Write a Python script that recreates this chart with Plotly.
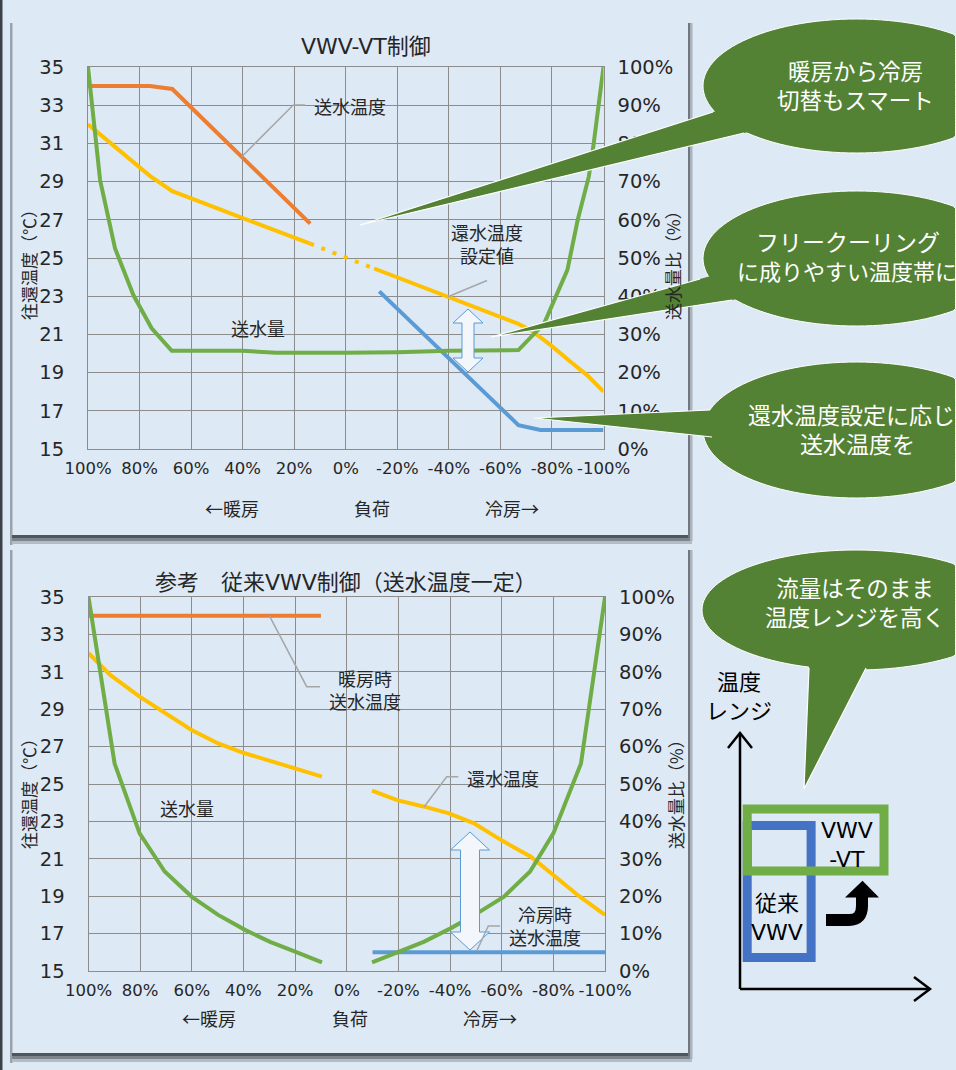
import math
import plotly.graph_objects as go

W, H = 956, 1070
FONT = "Noto Sans CJK JP"
LFONT = "DejaVu Sans, Noto Sans CJK JP"
TXT = "#262626"
BG = "#dde9f5"
ORANGE, YELLOW, GREEN, BLUE = "#ED7D31", "#FFC000", "#70AD47", "#5B9BD5"
DKGREEN = "#548235"
GRID = "#8c8c8c"
LEAD = "#a6a6a6"

# ---------------- data ----------------
load_ticks = [100, 80, 60, 40, 20, 0, -20, -40, -60, -80, -100]
load_tick_text = ["100%", "80%", "60%", "40%", "20%", "0%", "-20%", "-40%", "-60%", "-80%", "-100%"]
temp_ticks = [15, 17, 19, 21, 23, 25, 27, 29, 31, 33, 35]
flow_ticks = [0, 10, 20, 30, 40, 50, 60, 70, 80, 90, 100]

# top: VWV-VT
top_supply_heat_x = [100, 76, 67.3, 13.8]
top_supply_heat = [34.0, 34.0, 33.85, 26.8]
top_return_heat_x = [100, 76, 67.3, 13.8]
top_return_heat = [32.0, 29.3, 28.5, 25.75]
top_return_bridge_x = [13.8, -11]
top_return_bridge = [25.75, 24.45]
top_return_cool_x = [-11, -40, -66.5, -71.7, -79.4, -87.2, -93.6, -100]
top_return_cool = [24.45, 22.97, 21.58, 21.23, 20.45, 19.57, 18.87, 18.0]
top_supply_cool_x = [-13, -67, -75.5, -100]
top_supply_cool = [23.25, 16.25, 16.0, 16.0]
top_flow_x = [100, 95.3, 89.5, 82.4, 75.3, 67.5, 40, 27, 0, -20, -40, -67, -77, -86, -90, -94.3, -96.2, -100]
top_flow = [100, 70.4, 52.5, 40.3, 31.6, 25.7, 25.7, 25.2, 25.2, 25.3, 25.7, 25.9, 32.9, 46.9, 60, 71.3, 80, 100]

# bottom: conventional VWV
bot_supply_heat_x = [100, 10]
bot_supply_heat = [34.0, 34.0]
bot_return_heat_x = [100, 91.6, 80.2, 70, 60.1, 50, 40.1, 30, 20, 9.6]
bot_return_heat = [32.0, 30.83, 29.67, 28.74, 27.89, 27.18, 26.67, 26.25, 25.84, 25.39]
bot_return_cool_x = [-9.8, -19.5, -29.7, -39.6, -49.3, -59.8, -71.3, -84.3, -90, -100]
bot_return_cool = [24.64, 24.14, 23.8, 23.43, 22.9, 22.0, 21.11, 19.69, 19.0, 18.0]
bot_flow_heat_x = [100, 89.9, 80.2, 70.5, 60.1, 49.8, 39.4, 29.7, 20, 9.6]
bot_flow_heat = [100, 55.5, 36.8, 26.6, 19.9, 15.0, 11.0, 7.8, 5.2, 2.3]
bot_flow_cool_x = [-9.8, -20.1, -29.8, -40.2, -50.5, -60.9, -71, -80, -90.7, -100]
bot_flow_cool = [2.3, 5.2, 7.8, 11.4, 15.4, 19.9, 26.6, 36.8, 55.5, 100]
bot_supply_cool_x = [-10, -100]
bot_supply_cool = [16.0, 16.0]


def px(x):
    return x / W


def py(y):
    return 1 - y / H


fig = go.Figure()


def line(x, y, color, xa, ya, dash=None, width=4):
    fig.add_trace(go.Scatter(x=x, y=y, mode="lines", xaxis=xa, yaxis=ya,
                             line=dict(color=color, width=width, dash=dash),
                             hoverinfo="skip", showlegend=False))


# top traces
line(top_return_heat_x, top_return_heat, YELLOW, "x", "y")
line(top_return_bridge_x, top_return_bridge, YELLOW, "x", "y", dash="4px,8px")
line(top_return_cool_x, top_return_cool, YELLOW, "x", "y")
line(top_flow_x, top_flow, GREEN, "x", "y2")
line(top_supply_heat_x, top_supply_heat, ORANGE, "x", "y")
line(top_supply_cool_x, top_supply_cool, BLUE, "x", "y")

# bottom traces
line(bot_return_heat_x, bot_return_heat, YELLOW, "x2", "y3")
line(bot_return_cool_x, bot_return_cool, YELLOW, "x2", "y3")
line(bot_flow_heat_x, bot_flow_heat, GREEN, "x2", "y4")
line(bot_flow_cool_x, bot_flow_cool, GREEN, "x2", "y4")
line(bot_supply_heat_x, bot_supply_heat, ORANGE, "x2", "y3")
line(bot_supply_cool_x, bot_supply_cool, BLUE, "x2", "y3")

shapes = []
ann = []


def rect(x0, y0, x1, y1, color, layer="below"):
    shapes.append(dict(type="rect", xref="paper", yref="paper", x0=px(x0), x1=px(x1),
                       y0=py(y1), y1=py(y0), fillcolor=color, line=dict(width=0), layer=layer))


def pstr(pts, closed=False):
    d = "M" + "L".join(f"{px(x):.5f},{py(y):.5f}" for x, y in pts)
    return d + ("Z" if closed else "")


def polyline(pts, color, width):
    shapes.append(dict(type="path", xref="paper", yref="paper", path=pstr(pts),
                       line=dict(color=color, width=width), fillcolor="rgba(0,0,0,0)", layer="above"))


def polygon(pts, fill, lcolor=None, lwidth=0):
    shapes.append(dict(type="path", xref="paper", yref="paper", path=pstr(pts, True),
                       line=dict(color=lcolor or fill, width=lwidth), fillcolor=fill, layer="above"))


def ellipse(x0, y0, x1, y1):
    cx, cy, rx, ry = (x0 + x1) / 2, (y0 + y1) / 2, (x1 - x0) / 2, (y1 - y0) / 2
    pts = []
    for k in range(0, 360, 3):
        t = math.radians(k)
        pts.append((min(cx + rx * math.cos(t), W - 0.5), cy + ry * math.sin(t)))
    polygon(pts, DKGREEN, "white", 1)


def tail(tip, a, b, ext=1.25):
    ae = (tip[0] + (a[0] - tip[0]) * ext, tip[1] + (a[1] - tip[1]) * ext)
    be = (tip[0] + (b[0] - tip[0]) * ext, tip[1] + (b[1] - tip[1]) * ext)
    polygon([tip, ae, be], DKGREEN)
    polyline([a, tip, b], "white", 1.2)


def text(x, y, s, size=18, color=TXT, angle=0, xanchor="center", family=FONT):
    ann.append(dict(x=px(x), y=py(y), xref="paper", yref="paper", text=s, showarrow=False,
                    font=dict(family=family, size=size, color=color), textangle=angle,
                    xanchor=xanchor, yanchor="middle", align="center"))


# page edge + panel shadows
rect(0, 0, 2.5, 1070, "#3c4249")
for (t, b) in [(23, 535), (550, 1053)]:
    rect(10, t, 12.5, b + 10, "#9aa3ad")
    rect(12, b, 691, b + 3, "#4f555d")
    rect(12, b + 3, 692, b + 6, "#7d848c")
    rect(12, b + 6, 692, b + 9, "#b3bbc4")
    rect(688, t, 690, b + 3, "#70777f")
    rect(690, t, 692.5, b + 6, "#aab2bb")


# hollow double arrows
def dbl_arrow(cx, top, bot, hw, sw, hh):
    pts = [(cx, top), (cx + hw, top + hh), (cx + sw, top + hh), (cx + sw, bot - hh),
           (cx + hw, bot - hh), (cx, bot), (cx - hw, bot - hh), (cx - sw, bot - hh),
           (cx - sw, top + hh), (cx - hw, top + hh)]
    polygon(pts, "#f3f7fc", BLUE, 1)


dbl_arrow(468, 309, 372, 15, 6, 14)
dbl_arrow(470, 832, 950, 19.5, 9.5, 18)

# leader lines
polyline([(241.7, 156.7), (293.3, 105), (305, 105)], LEAD, 1.5)
polyline([(448, 296.7), (487, 280.5)], LEAD, 1.5)
polyline([(269.3, 615.7), (306.7, 686.7), (320, 686.7)], LEAD, 1.5)
polyline([(424, 807), (446.7, 776.7), (458.3, 776.7)], LEAD, 1.5)
polyline([(476.7, 951), (488.3, 926), (500, 926)], LEAD, 1.5)

# bubbles
ellipse(703, 19, 1010, 153)
ellipse(703, 191, 1010, 326)
ellipse(703, 362, 1010, 498)
ellipse(702, 550, 1010, 670)
tail((360, 225), (713, 112), (744, 133))
tail((491, 337), (700, 279), (732, 300))
tail((534, 418), (710, 410), (712, 437))
tail((804, 789), (809, 668), (866, 668), ext=1.15)

# bottom-right diagram
shapes.append(dict(type="rect", xref="paper", yref="paper", x0=px(747.2), x1=px(811.1),
                   y0=py(957.5), y1=py(825.5), line=dict(color="#4472C4", width=9),
                   fillcolor="rgba(0,0,0,0)", layer="above"))
shapes.append(dict(type="rect", xref="paper", yref="paper", x0=px(747.2), x1=px(884),
                   y0=py(871.1), y1=py(808.9), line=dict(color=GREEN, width=9),
                   fillcolor="rgba(0,0,0,0)", layer="above"))
polyline([(740, 989), (740, 733)], "black", 2.5)
polyline([(728, 748), (740, 733), (752, 748)], "black", 2.5)
polyline([(740, 989), (930, 989)], "black", 2.5)
polyline([(914, 977), (930, 989), (914, 1001)], "black", 2.5)
shapes.append(dict(type="path", xref="paper", yref="paper",
                   path=(f"M{px(826):.5f},{py(920):.5f}L{px(849):.5f},{py(920):.5f}"
                         f"Q{px(862):.5f},{py(920):.5f} {px(862):.5f},{py(906):.5f}"
                         f"L{px(862):.5f},{py(896):.5f}"),
                   line=dict(color="black", width=12), fillcolor="rgba(0,0,0,0)", layer="above"))
polygon([(845, 897.6), (879, 897.6), (862.5, 880.7)], "black")

# titles and labels
text(366, 47, "VWV-VT制御", 22, family=LFONT)
text(346, 582, "参考　従来VWV制御（送水温度一定）", 22, family=LFONT)
for yc, xc_l, xc_r in [(261, 28, 672), (790, 28, 675)]:
    text(xc_l, yc, "往還温度（℃）", 17, angle=-90)
    text(xc_r, yc, "送水量比（%）", 17, angle=-90)
text(232, 508, "←暖房")
text(372, 508, "負荷")
text(512, 508, "冷房→")
text(209, 1018, "←暖房")
text(350, 1018, "負荷")
text(490, 1018, "冷房→")

text(350, 106, "送水温度")
text(487, 243, "還水温度<br>設定値")
text(258, 328, "送水量")
text(365, 689, "暖房時<br>送水温度")
text(503, 778, "還水温度")
text(187, 808, "送水量")
text(545, 925, "冷房時<br>送水温度")

WT = "white"
text(855, 85, "暖房から冷房<br>切替もスマート", 22.5, WT)
text(848, 241, "フリークーリング", 23, WT)
text(735, 270, "に成りやすい温度帯に", 22, WT, xanchor="left")
text(746, 414, "還水温度設定に応じ", 23, WT, xanchor="left")
text(857, 443, "送水温度を", 23, WT)
text(855, 601, "流量はそのまま<br>温度レンジを高く", 22.5, WT)

text(739, 694, "温度<br>レンジ", 22, "black")
text(847, 845, "VWV<br>-VT", 22, "black", family=LFONT)
text(777, 918, "従来<br>VWV", 22, "black", family=LFONT)


# axes
TICKFONT = "DejaVu Sans"


def xax(dom, anchor):
    return dict(domain=dom, anchor=anchor, range=[100, -100], tickmode="array",
                tickvals=load_ticks, ticktext=load_tick_text, showgrid=True, gridcolor=GRID,
                gridwidth=1, showline=True, linecolor=GRID, linewidth=1, mirror=True,
                zeroline=False, ticks="", tickangle=0, automargin=False,
                tickfont=dict(family=TICKFONT, size=16.5, color=TXT),
                ticklabelstandoff=4, fixedrange=True)


def yax_t(dom, anchor):
    return dict(domain=dom, anchor=anchor, range=[15, 35], tickmode="array",
                tickvals=temp_ticks, ticktext=[str(v) for v in temp_ticks], showgrid=True,
                gridcolor=GRID, gridwidth=1, showline=True, linecolor=GRID, linewidth=1,
                mirror=True, zeroline=False, ticks="", automargin=False,
                tickfont=dict(family=TICKFONT, size=19.5, color=TXT), ticklabelstandoff=19,
                fixedrange=True)


def yax_f(over, anchor):
    return dict(overlaying=over, anchor=anchor, side="right", range=[0, 100], tickmode="array",
                tickvals=flow_ticks, ticktext=[f"{v}%" for v in flow_ticks], showgrid=False,
                showline=False, zeroline=False, ticks="", automargin=False,
                tickfont=dict(family=TICKFONT, size=19.5, color=TXT), ticklabelstandoff=13,
                fixedrange=True)


fig.update_layout(
    width=W, height=H, margin=dict(l=0, r=0, t=0, b=0, pad=0, autoexpand=False),
    paper_bgcolor=BG, plot_bgcolor="rgba(0,0,0,0)",
    xaxis=xax([88 / W, 603.5 / W], "y"),
    yaxis=yax_t([1 - 449 / H, 1 - 67 / H], "x"),
    yaxis2=yax_f("y", "x"),
    xaxis2=xax([88.5 / W, 605 / W], "y3"),
    yaxis3=yax_t([1 - 971 / H, 1 - 597 / H], "x2"),
    yaxis4=yax_f("y3", "x2"),
    shapes=shapes, annotations=ann, showlegend=False,
    font=dict(family=FONT, color=TXT),
)

fig.write_html("out.html", config={"displayModeBar": False})
